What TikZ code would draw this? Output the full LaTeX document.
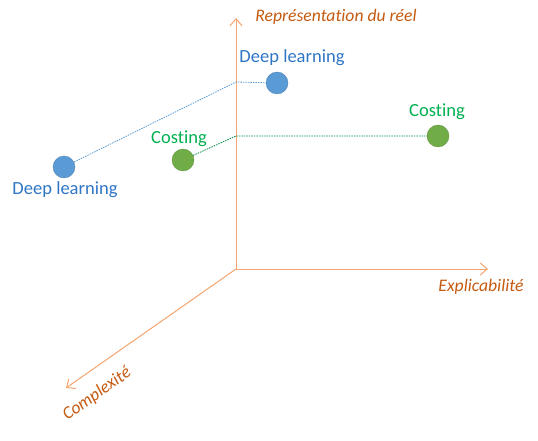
\documentclass[tikz,border=0pt]{standalone}
\usepackage{fontspec}
\setmainfont{Carlito}[Ligatures={NoCommon}]
\usetikzlibrary{arrows.meta}
\definecolor{axisc}{HTML}{F4A46E}
\definecolor{labc}{HTML}{C55A11}
\definecolor{bluet}{HTML}{2E75C6}
\definecolor{blued}{HTML}{5B9BD5}
\definecolor{greent}{HTML}{00B050}
\definecolor{greend}{HTML}{70AD47}
\tikzset{
  axis/.style={draw=axisc, line width=1pt, -{Straight Barb[length=7bp,width=12bp]}},
  axlab/.style={text=labc, font=\fontsize{17.7}{20}\selectfont\itshape, inner sep=0pt},
  bdot/.style={circle, fill=blued, draw=blued!80!black, line width=0.3pt, minimum size=22bp, inner sep=0pt},
  gdot/.style={circle, fill=greend, draw=greend!80!black, line width=0.3pt, minimum size=22bp, inner sep=0pt},
  blab/.style={text=bluet, font=\fontsize{18.6}{21}\selectfont, inner sep=0pt},
  glab/.style={text=greent, font=\fontsize{18.6}{21}\selectfont, inner sep=0pt},
  bline/.style={draw=blued, line width=0.8pt, dash pattern=on 1.5bp off 1bp},
  gline/.style={draw=greent!80!black, line width=0.8pt, dash pattern=on 1.5bp off 1bp},
}
\begin{document}
\begin{tikzpicture}[x=1bp,y=-1bp]
\useasboundingbox (0,0) rectangle (538,441);
\coordinate (O) at (236,269);
\coordinate (Y) at (236,18);
\coordinate (X) at (488,269);
\coordinate (Z) at (66,388);
\draw[axis] (O) -- (Y);
\draw[axis] (O) -- (X);
\draw[axis] (O) -- (Z);
\node[axlab] (ly) at (336,17) {Représentation du réel};
\node[axlab] (lx) at (481,287) {Explicabilité};
\node[axlab, rotate=35] (lz) at (97,394) {Complexité};
\coordinate (pb) at (236,82);
\coordinate (pg) at (236,136);
\node[bdot] (b1) at (64,167) {};
\node[bdot] (b2) at (277,83) {};
\node[gdot] (g1) at (183,160) {};
\node[gdot] (g2) at (438,136) {};
\draw[bline] (b1) -- (pb) -- (b2);
\draw[gline] (g1) -- (pg) -- (g2);
\node[blab] (tb2) at (292,58) {Deep learning};
\node[blab] (tb1) at (65,190) {Deep learning};
\node[glab] (tg2) at (437,112) {Costing};
\node[glab] (tg1) at (179,139) {Costing};
\end{tikzpicture}
\end{document}
